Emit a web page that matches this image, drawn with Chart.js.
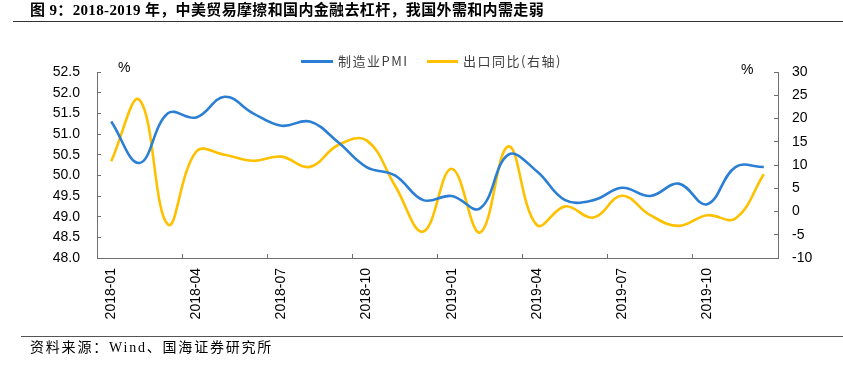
<!DOCTYPE html>
<html>
<head>
<meta charset="utf-8">
<script src="https://cdn.jsdelivr.net/npm/chart.js@4.4.1/dist/chart.umd.min.js"></script>
<style>
  body { margin: 0; width: 843px; height: 370px; background: #fff; position: relative; overflow: hidden;
         font-family: "Liberation Sans", Arial, "Noto Sans CJK SC", sans-serif; }
  #wrap { position: absolute; left: 0; top: 0; width: 843px; height: 370px; }
  .abs { position: absolute; white-space: nowrap; }
  .title { left: 30px; top: 0px; font: bold 15px "Liberation Serif", "Noto Sans CJK SC", serif; line-height: 20px; color: #000; letter-spacing: 0.35px; }
  .source { left: 30px; top: 339px; font: 14px "Liberation Serif", "Noto Sans CJK SC", serif; line-height: 18px; color: #000; letter-spacing: 1.8px; }
  .rule { height: 0; }
  .legtxt { font: 13px "Noto Sans CJK SC", "Liberation Sans", sans-serif; line-height: 16px; color: #404040; letter-spacing: 1.5px; }
  .unit { font: 14px "Liberation Sans", Arial, sans-serif; line-height: 16px; color: #000; }
</style>
</head>
<body>
<div id="wrap"><canvas id="chart" width="843" height="370"></canvas></div>

<div class="abs title">图 9：2018-2019 年，中美贸易摩擦和国内金融去杠杆，我国外需和内需走弱</div>
<div class="abs rule" style="left:13px;top:21px;width:830px;border-top:1.5px solid #333;"></div>

<div class="abs" style="left:301px;top:60px;width:32px;height:3px;background:#2a7fd4;"></div>
<div class="abs legtxt" style="left:338px;top:53px;">制造业PMI</div>
<div class="abs" style="left:427px;top:60px;width:31px;height:3px;background:#ffc000;"></div>
<div class="abs legtxt" style="left:463px;top:53px;">出口同比(右轴)</div>

<div class="abs unit" style="left:118px;top:59px;">%</div>
<div class="abs unit" style="left:741px;top:61px;">%</div>

<div class="abs rule" style="left:21px;top:336px;width:822px;border-top:1.5px solid #555;"></div>
<div class="abs source">资料来源：Wind、国海证券研究所</div>

<script>
const months = [
  "2018-01", "2018-02", "2018-03", "2018-04", "2018-05", "2018-06",
  "2018-07", "2018-08", "2018-09", "2018-10", "2018-11", "2018-12",
  "2019-01", "2019-02", "2019-03", "2019-04", "2019-05", "2019-06",
  "2019-07", "2019-08", "2019-09", "2019-10", "2019-11", "2019-12"
];

// 制造业PMI（左轴）
const pmi = [
  51.3, 50.3, 51.5, 51.4, 51.9, 51.5, 51.2, 51.3, 50.8, 50.2, 50.0, 49.4,
  49.5, 49.2, 50.5, 50.1, 49.4, 49.4, 49.7, 49.5, 49.8, 49.3, 50.2, 50.2
];

// 出口同比（右轴）
const exportYoy = [
  10.8, 24.0, -2.8, 12.9, 12.2, 10.9, 11.8, 9.6, 14.3, 15.3, 5.6, -4.3,
  9.2, -4.5, 14.0, -2.9, 1.1, -1.3, 3.4, -0.8, -3.1, -0.8, -1.5, 8.0
];

const axisColor = "#6e6e6e";
const tickFont = { family: "'Liberation Sans', Arial, sans-serif", size: 14 };

const ctx = document.getElementById("chart").getContext("2d");

new Chart(ctx, {
  type: "line",
  data: {
    labels: months,
    datasets: [
      {
        label: "制造业PMI",
        data: pmi,
        yAxisID: "y",
        borderColor: "#2a7fd4",
        backgroundColor: "#2a7fd4",
        borderWidth: 2.6,
        pointRadius: 0,
        tension: 0.4,
        fill: false
      },
      {
        label: "出口同比(右轴)",
        data: exportYoy,
        yAxisID: "y1",
        borderColor: "#ffc000",
        backgroundColor: "#ffc000",
        borderWidth: 2.6,
        pointRadius: 0,
        tension: 0.4,
        fill: false
      }
    ]
  },
  options: {
    responsive: false,
    animation: false,
    layout: { padding: { top: 72, left: 0, right: 0, bottom: 0 } },
    plugins: {
      legend: { display: false },
      tooltip: { enabled: false }
    },
    scales: {
      x: {
        offset: true,
        grid: {
          offset: true,
          drawOnChartArea: false,
          tickLength: -4,
          color: c => (c.index % 3 === 0 ? axisColor : "rgba(0,0,0,0)")
        },
        border: { color: axisColor, width: 1 },
        ticks: {
          autoSkip: false,
          minRotation: 90,
          maxRotation: 90,
          padding: 14,
          color: "#000",
          font: tickFont,
          callback: (v, i) => (i % 3 === 0 ? months[i] : "")
        },
        afterFit: s => { s.height = 112; }
      },
      y: {
        position: "left",
        min: 48,
        max: 52.5,
        grid: { drawOnChartArea: false, tickLength: -4, color: axisColor },
        border: { color: axisColor, width: 1 },
        ticks: {
          stepSize: 0.5,
          padding: 21,
          color: "#000",
          font: tickFont,
          callback: v => v.toFixed(1)
        },
        afterFit: s => { s.width = 97; }
      },
      y1: {
        position: "right",
        min: -10,
        max: 30,
        grid: { drawOnChartArea: false, tickLength: -4, color: axisColor },
        border: { color: axisColor, width: 1 },
        ticks: {
          stepSize: 5,
          padding: 18,
          color: "#000",
          font: tickFont
        },
        afterFit: s => { s.width = 65; }
      }
    }
  }
});
</script>
</body>
</html>
